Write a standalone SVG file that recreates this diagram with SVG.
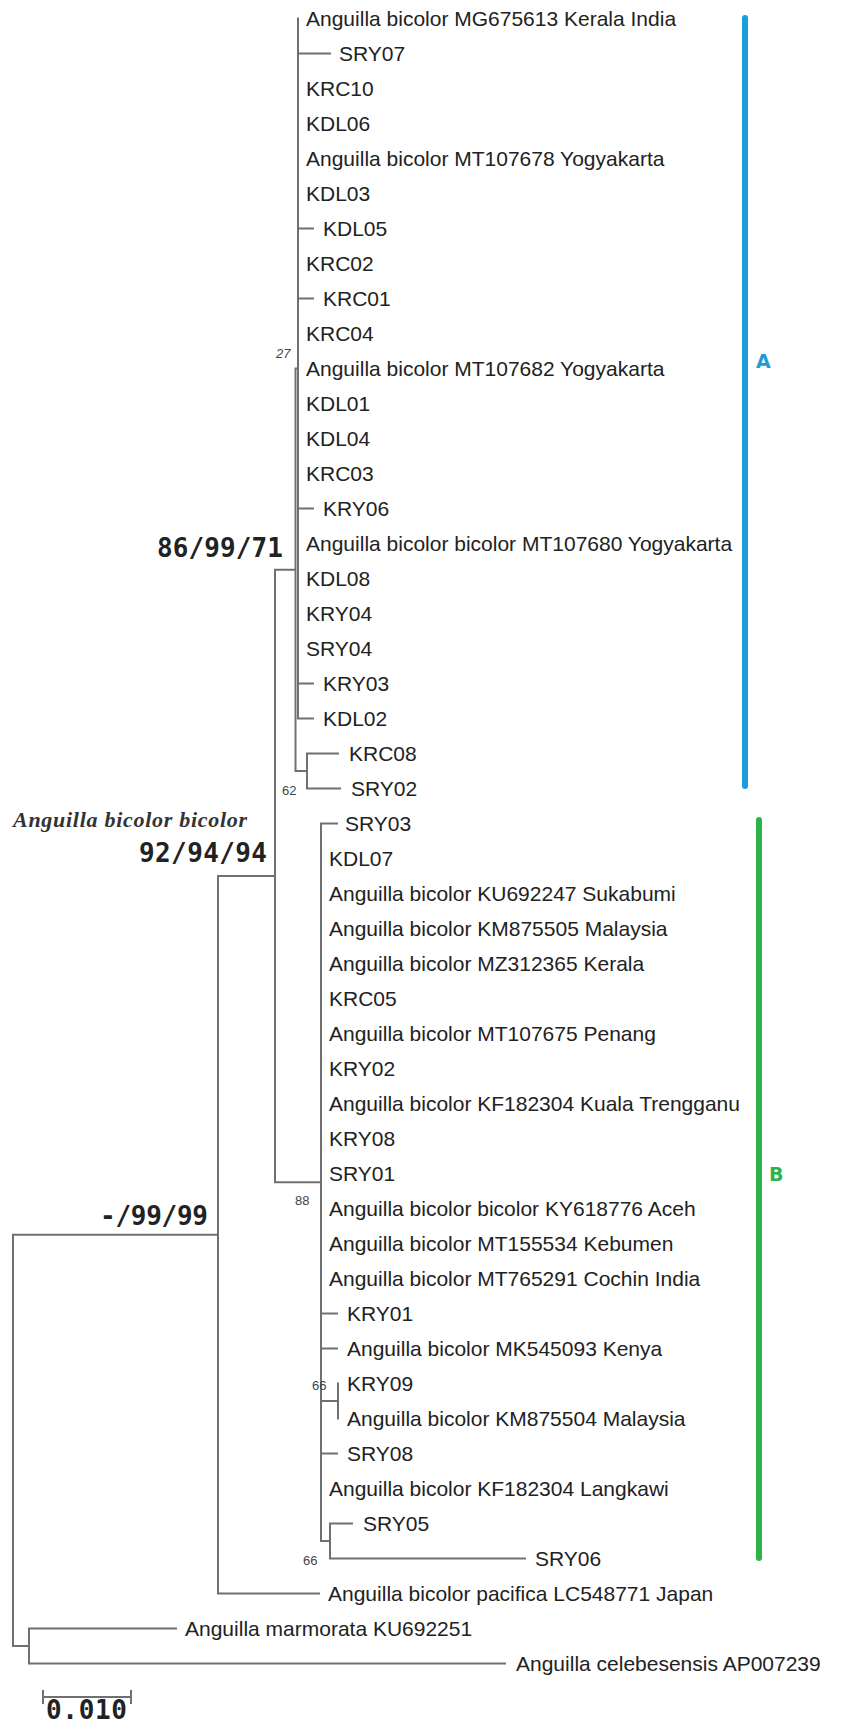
<svg xmlns="http://www.w3.org/2000/svg" width="844" height="1722" viewBox="0 0 844 1722">
<style>
.br{stroke:#707070;stroke-width:2;fill:none;stroke-linecap:square}
.lb{font-family:"Liberation Sans",Arial,sans-serif;font-size:21px;fill:#222}
.bs{font-family:"Liberation Sans",Arial,sans-serif;font-size:13px;fill:#444}
.sp{font-family:"DejaVu Sans Mono",monospace;font-weight:bold;font-size:26px;fill:#222}
.it{font-family:"Liberation Serif","DejaVu Serif",serif;font-weight:bold;font-style:italic;font-size:22px;fill:#333}
.bar{stroke-width:6;stroke-linecap:round;fill:none}
.cl{font-family:"DejaVu Sans",sans-serif;font-weight:bold;font-size:19px}
</style>
<rect width="844" height="1722" fill="#fff"/>
<g id="connectors">
<path class="br" d="M298 18.5V718.5M295.5 368.5V771M295.5 368.5H298M307 753.5V788.5M295.5 771H307M307 753.5H338M307 788.5H340
M298 53.5H330M298 228.5H313M298 298.5H313M298 508.5H313M298 683.5H313M298 718.5H313
M275 569.75V1182.25M275 569.75H295.5M321 823.5V1541M275 1182.25H321M321 823.5H337
M321 1313.5H337M321 1348.5H337M321 1453.5H337M338 1383.5V1418.5M321 1401H338
M330 1523.5V1558.5M321 1541H330M330 1523.5H352M330 1558.5H525
M218 876V1593.5M218 876H275M218 1593.5H319
M13 1234.75V1646M13 1234.75H218M13 1646H29M29 1628.5V1663.5M29 1628.5H176M29 1663.5H505"/>
<path class="br" d="M43 1697H131M43 1691V1703M131 1691V1703"/>
</g>
<g id="cladeA">
<text class="lb" x="306" y="26">Anguilla bicolor MG675613 Kerala India</text>
<text class="lb" x="339" y="61">SRY07</text>
<text class="lb" x="306" y="96">KRC10</text>
<text class="lb" x="306" y="131">KDL06</text>
<text class="lb" x="306" y="166">Anguilla bicolor MT107678 Yogyakarta</text>
<text class="lb" x="306" y="201">KDL03</text>
<text class="lb" x="323" y="236">KDL05</text>
<text class="lb" x="306" y="271">KRC02</text>
<text class="lb" x="323" y="306">KRC01</text>
<text class="lb" x="306" y="341">KRC04</text>
<text class="lb" x="306" y="376">Anguilla bicolor MT107682 Yogyakarta</text>
<text class="lb" x="306" y="411">KDL01</text>
<text class="lb" x="306" y="446">KDL04</text>
<text class="lb" x="306" y="481">KRC03</text>
<text class="lb" x="323" y="516">KRY06</text>
<text class="lb" x="306" y="551">Anguilla bicolor bicolor MT107680 Yogyakarta</text>
<text class="lb" x="306" y="586">KDL08</text>
<text class="lb" x="306" y="621">KRY04</text>
<text class="lb" x="306" y="656">SRY04</text>
<text class="lb" x="323" y="691">KRY03</text>
<text class="lb" x="323" y="726">KDL02</text>
<text class="lb" x="349" y="761">KRC08</text>
<text class="lb" x="351" y="796">SRY02</text>
<text class="bs" x="276" y="358" font-style="italic">27</text>
<text class="bs" x="282" y="795">62</text>
</g>
<g id="cladeB">
<text class="lb" x="345" y="831">SRY03</text>
<text class="lb" x="329" y="866">KDL07</text>
<text class="lb" x="329" y="901">Anguilla bicolor KU692247 Sukabumi</text>
<text class="lb" x="329" y="936">Anguilla bicolor KM875505 Malaysia</text>
<text class="lb" x="329" y="971">Anguilla bicolor MZ312365 Kerala</text>
<text class="lb" x="329" y="1006">KRC05</text>
<text class="lb" x="329" y="1041">Anguilla bicolor MT107675 Penang</text>
<text class="lb" x="329" y="1076">KRY02</text>
<text class="lb" x="329" y="1111">Anguilla bicolor KF182304 Kuala Trengganu</text>
<text class="lb" x="329" y="1146">KRY08</text>
<text class="lb" x="329" y="1181">SRY01</text>
<text class="lb" x="329" y="1216">Anguilla bicolor bicolor KY618776 Aceh</text>
<text class="lb" x="329" y="1251">Anguilla bicolor MT155534 Kebumen</text>
<text class="lb" x="329" y="1286">Anguilla bicolor MT765291 Cochin India</text>
<text class="lb" x="347" y="1321">KRY01</text>
<text class="lb" x="347" y="1356">Anguilla bicolor MK545093 Kenya</text>
<text class="lb" x="347" y="1391">KRY09</text>
<text class="lb" x="347" y="1426">Anguilla bicolor KM875504 Malaysia</text>
<text class="lb" x="347" y="1461">SRY08</text>
<text class="lb" x="329" y="1496">Anguilla bicolor KF182304 Langkawi</text>
<text class="lb" x="363" y="1531">SRY05</text>
<text class="lb" x="535" y="1566">SRY06</text>
<text class="bs" x="295" y="1205">88</text>
<text class="bs" x="312" y="1390">66</text>
<text class="bs" x="303" y="1565">66</text>
</g>
<g id="outgroups">
<text class="lb" x="328" y="1601">Anguilla bicolor pacifica LC548771 Japan</text>
<text class="lb" x="185" y="1636">Anguilla marmorata KU692251</text>
<text class="lb" x="516" y="1671">Anguilla celebesensis AP007239</text>
</g>
<g id="supports">
<text class="sp" x="157" y="557" textLength="126">86/99/71</text>
<text class="it" x="13" y="827" textLength="234">Anguilla bicolor bicolor</text>
<text class="sp" x="139" y="862" textLength="128">92/94/94</text>
<text class="sp" x="100" y="1225" textLength="108">-/99/99</text>
</g>
<g id="scale">
<text class="sp" x="46" y="1719" font-size="25" textLength="81">0.010</text>
</g>
<g id="barA">
<line class="bar" x1="745" y1="18" x2="745" y2="786" stroke="#1b9dd9"/>
<text class="cl" x="756" y="368" fill="#1b9dd9">A</text>
</g>
<g id="barB">
<line class="bar" x1="759" y1="820" x2="759" y2="1558" stroke="#2db34a"/>
<text class="cl" x="769" y="1181" fill="#2db34a">B</text>
</g>
</svg>
